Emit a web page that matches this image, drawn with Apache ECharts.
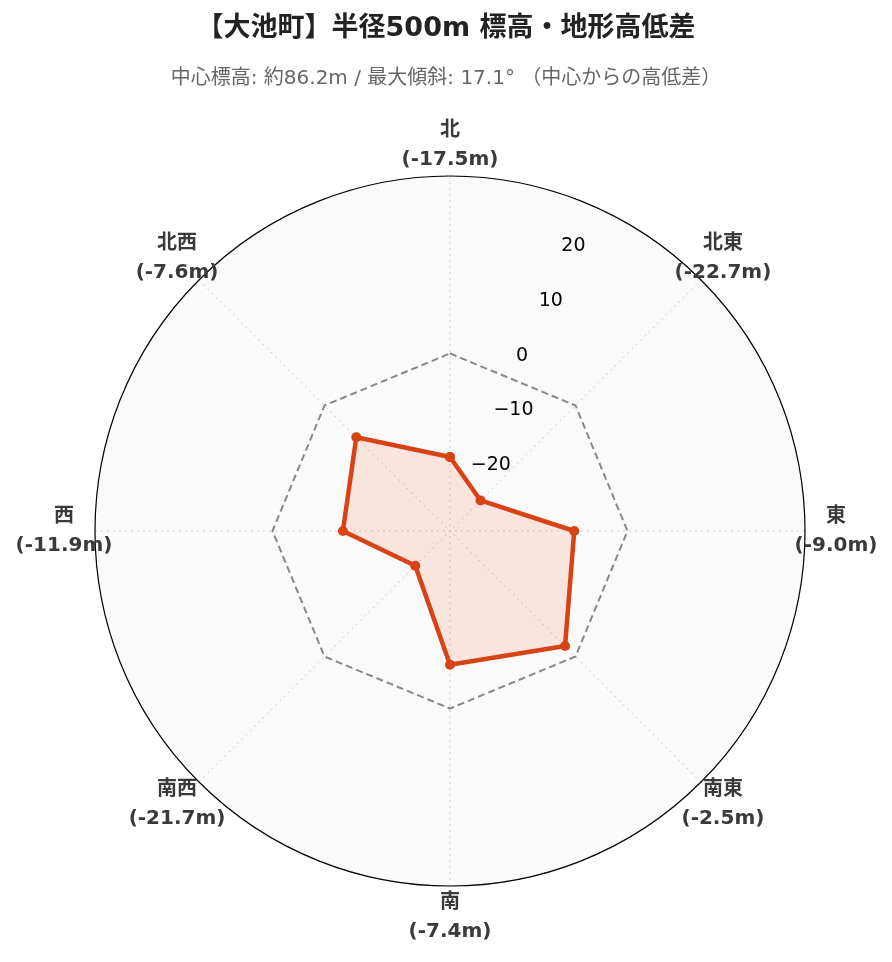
<!DOCTYPE html>
<html>
<head>
<meta charset="utf-8">
<script src="https://cdn.jsdelivr.net/npm/echarts@6/dist/echarts.min.js"></script>
<style>html,body{margin:0;padding:0;background:#fff}#c{width:892px;height:962px}</style>
</head>
<body>
<div id="c"></div>
<script>
const categories = ['北', '北東', '東', '南東', '南', '南西', '西', '北西'];
const diffs = [-17.5, -22.7, -9.0, -2.5, -7.4, -21.7, -11.9, -7.6];
const refLevel = [0, 0, 0, 0, 0, 0, 0, 0];
const radialMin = -30, radialMax = 30, radialStep = 10;
const titleText = '【大池町】半径500m 標高・地形高低差';
const subText = '中心標高: 約86.2m / 最大傾斜: 17.1° （中心からの高低差）';

const mixFont = '"DejaVu Sans", "Noto Sans CJK JP", sans-serif';
const halfBand = 180 / categories.length;
const closed = arr => arr.map((v, i) => [v, i]).concat([[arr[0], 0]]);
const hiddenAngle = (idx, extra) => Object.assign({
  polarIndex: idx, show: false, axisLine: {show: false}, axisTick: {show: false},
  axisLabel: {show: false}, splitLine: {show: false}
}, extra);
const hiddenRadius = idx => ({
  polarIndex: idx, type: 'value', min: radialMin, max: radialMax, interval: radialStep, show: false,
  axisLine: {show: false}, axisTick: {show: false}, axisLabel: {show: false}, splitLine: {show: false}
});

const chart = echarts.init(document.getElementById('c'), null, {renderer: 'canvas'});
chart.setOption({
  backgroundColor: '#ffffff',
  animation: false,
  title: [
    {text: titleText, left: 'center', top: 10,
     textStyle: {fontFamily: mixFont, fontSize: 27, fontWeight: 'bold', color: '#222'}},
    {text: subText, left: 'center', top: 64,
     textStyle: {fontFamily: mixFont, fontSize: 20, fontWeight: 'normal', color: '#666'}}
  ],
  polar: [
    {center: [450, 531], radius: 355},
    {center: [450, 531], radius: 355},
    {center: [450, 531], radius: 355},
    {center: [450, 531], radius: 386}
  ],
  angleAxis: [
    {
      polarIndex: 0, type: 'value', min: 0, max: 360, interval: 360 / categories.length,
      startAngle: 90, clockwise: true,
      axisLine: {show: true, lineStyle: {color: '#000', width: 1.2}},
      axisTick: {show: false}, axisLabel: {show: false},
      splitLine: {show: true, lineStyle: {color: '#cccccc', type: [2, 4], width: 1}}
    },
    hiddenAngle(1, {type: 'value', min: 0, max: 360, startAngle: 90 - halfBand, clockwise: true}),
    hiddenAngle(2, {type: 'category', data: categories, boundaryGap: true, startAngle: 90 + halfBand, clockwise: true}),
    hiddenAngle(3, {type: 'category', data: categories, boundaryGap: true, startAngle: 90 + halfBand, clockwise: true})
  ],
  radiusAxis: [
    {
      polarIndex: 0, type: 'value', min: radialMin, max: radialMax, interval: radialStep,
      axisLine: {show: false}, axisTick: {show: false}, axisLabel: {show: false},
      splitLine: {show: true, lineStyle: {color: '#cccccc', type: [2, 4], width: 1}},
      splitArea: {show: true, areaStyle: {color: ['#fafafa']}}
    },
    {
      polarIndex: 1, type: 'value', min: radialMin, max: radialMax, interval: radialStep,
      axisLine: {show: false}, axisTick: {show: false}, splitLine: {show: false},
      axisLabel: {show: true, margin: 2, align: 'left', verticalAlign: 'bottom',
        fontFamily: '"DejaVu Sans", sans-serif', fontSize: 19, color: '#000', padding: [0, 0, 1, 0],
        formatter: v => (v <= radialMin || v >= radialMax) ? '' : (v < 0 ? '\u2212' + Math.abs(v) : String(v))}
    },
    hiddenRadius(2),
    hiddenRadius(3)
  ],
  series: [
    {
      type: 'line', coordinateSystem: 'polar', polarIndex: 2, clip: false,
      data: closed(refLevel), symbol: 'none', silent: true, z: 2,
      lineStyle: {color: '#888888', width: 2, type: [7, 4]}
    },
    {
      type: 'line', coordinateSystem: 'polar', polarIndex: 2, clip: false,
      data: closed(diffs), symbol: 'circle', symbolSize: 10, z: 3,
      itemStyle: {color: '#d84315'},
      lineStyle: {color: '#d84315', width: 4.5},
      areaStyle: {color: 'rgba(255,100,60,0.2)', origin: 'start'}
    },
    {
      type: 'scatter', coordinateSystem: 'polar', polarIndex: 3, clip: false,
      data: diffs.map((d, i) => [radialMax, i, d]), symbolSize: 0, silent: true,
      itemStyle: {opacity: 1},
      label: {
        show: true, position: 'inside', align: 'center', verticalAlign: 'middle', opacity: 1,
        fontFamily: mixFont, fontSize: 20, fontWeight: 'bold', color: '#3a3a3a', lineHeight: 29,
        formatter: p => categories[p.data[1]] + '\n(' + p.data[2].toFixed(1) + 'm)'
      }
    }
  ]
});
</script>
</body>
</html>
